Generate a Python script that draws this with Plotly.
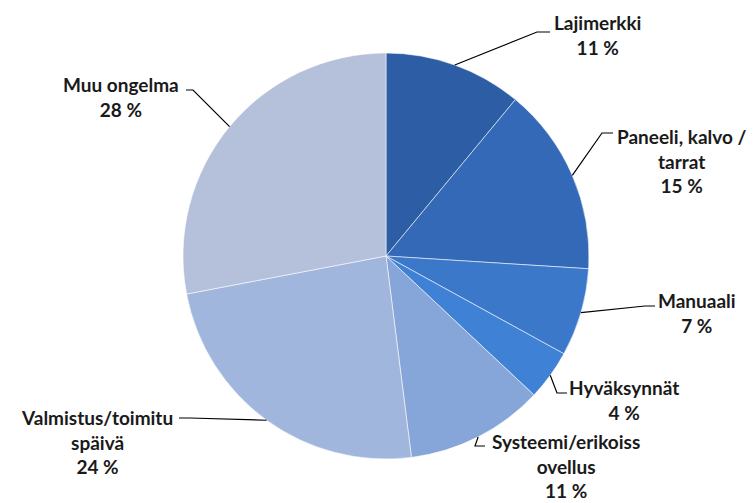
import math
import plotly.graph_objects as go

# Share of reported issues by category (percent)
categories = [
    "Lajimerkki",
    "Paneeli, kalvo / tarrat",
    "Manuaali",
    "Hyväksynnät",
    "Systeemi/erikoissovellus",
    "Valmistus/toimitusspäivä",
    "Muu ongelma",
]
values = [11, 15, 7, 4, 11, 24, 28]
label_lines = [
    ["Lajimerkki"],
    ["Paneeli, kalvo /", "tarrat"],
    ["Manuaali"],
    ["Hyväksynnät"],
    ["Systeemi/erikoiss", "ovellus"],
    ["Valmistus/toimitu", "späivä"],
    ["Muu ongelma"],
]
colors = ["#2d5ea5", "#3369b6", "#3b78c9", "#3f81d4",
          "#86a5d8", "#a1b6dd", "#b5c1db"]

W, H = 755, 503
CX, CY, R = 386, 256, 203  # pie centre and radius in pixels

# label block centres and leader-line elbow/end points (pixels)
label_pos = [(597, 35), (682, 161), (697, 313), (624, 400),
             (566, 466), (97, 442), (121, 97)]
leader_pts = [
    [(537, 32), (550, 32)],
    [(602, 133), (613, 133)],
    [(645, 306), (655, 306)],
    [(557, 393), (567, 393)],
    [(475, 446), (485, 446)],
    [(190, 418), (179, 418)],
    [(193, 90), (186, 90)],
]

def px(x):
    return x / W

def py(y):
    return 1 - y / H

fig = go.Figure(go.Pie(
    labels=categories,
    values=values,
    sort=False,
    direction="clockwise",
    rotation=0,
    textinfo="none",
    hoverinfo="label+percent",
    marker=dict(colors=colors, line=dict(color="rgba(255,255,255,0.55)", width=1)),
    domain=dict(x=[px(CX - R), px(CX + R)], y=[py(CY + R), py(CY - R)]),
    showlegend=False,
))

total = sum(values)
cum = 0
shapes = []
annotations = []
for v, lines, (lx, ly), pts in zip(values, label_lines, label_pos, leader_pts):
    mid = (cum + v / 2) / total * 2 * math.pi
    cum += v
    sx = CX + R * math.sin(mid)
    sy = CY - R * math.cos(mid)
    path_pts = [(sx, sy)] + pts
    d = "M " + " L ".join(f"{px(x):.5f},{py(y):.5f}" for x, y in path_pts)
    shapes.append(dict(type="path", path=d, xref="paper", yref="paper",
                       line=dict(color="black", width=1.2)))
    text = "<br>".join(lines + [f"{v} %"])
    annotations.append(dict(
        x=px(lx), y=py(ly), xref="paper", yref="paper",
        text=text, showarrow=False, align="center",
        xanchor="center", yanchor="middle",
        font=dict(family="Lato", size=19, color="#1a1a1a", weight="bold"),
    ))

fig.update_layout(
    width=W, height=H,
    margin=dict(l=0, r=0, t=0, b=0),
    paper_bgcolor="white",
    plot_bgcolor="white",
    shapes=shapes,
    annotations=annotations,
)

fig.write_html("out.html")
